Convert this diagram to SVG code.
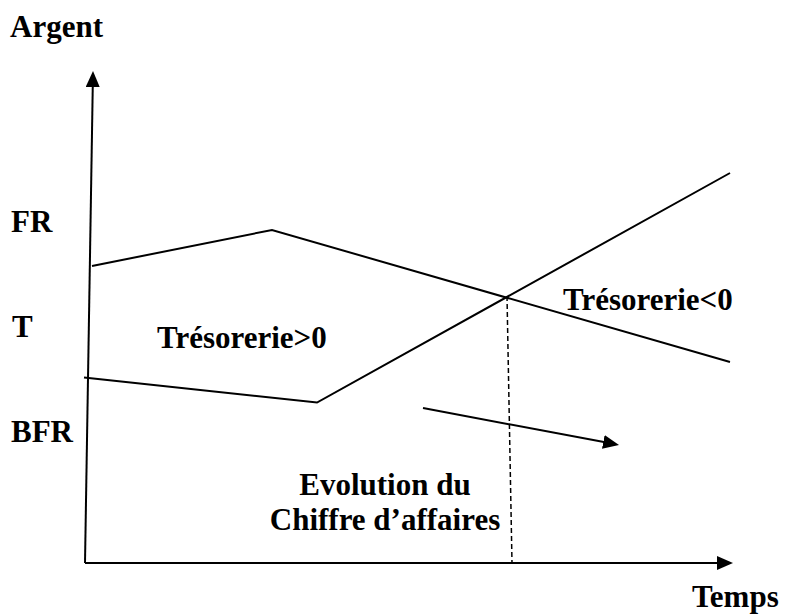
<svg xmlns="http://www.w3.org/2000/svg" width="785" height="614" viewBox="0 0 785 614">
<style>
.t{font-family:"Liberation Serif","Times New Roman",serif;font-weight:bold;font-size:31px;fill:#000}
.ln{fill:none;stroke:#000;stroke-width:2;stroke-linejoin:miter}
.dash{fill:none;stroke:#000;stroke-width:1.5;stroke-dasharray:5 3}
</style>
<defs>
<marker id="ah" viewBox="0 0 16 14" refX="6" refY="7" markerWidth="16" markerHeight="14" markerUnits="userSpaceOnUse" orient="auto">
<path d="M0,0 L16,7 L0,14 z" fill="#000"/>
</marker>
</defs>
<rect width="785" height="614" fill="#fff"/>
<g id="connectors">
<line id="axis-y" class="ln" x1="85" y1="563" x2="92.84" y2="81" marker-end="url(#ah)"/>
<line id="axis-x" class="ln" x1="85" y1="563" x2="723" y2="563" marker-end="url(#ah)"/>
<polyline id="fr-line" class="ln" points="92,266 272,230 730,362"/>
<polyline id="bfr-line" class="ln" points="84,377.5 317,402.5 730,173"/>
<line id="limit" class="dash" x1="507" y1="296" x2="512" y2="563"/>
<line id="trend" class="ln" x1="423" y1="408" x2="609.2" y2="443.1" marker-end="url(#ah)"/>
</g>
<g id="label-argent"><text class="t" x="10" y="37">Argent</text></g>
<g id="label-fr"><text class="t" x="11" y="232">FR</text></g>
<g id="label-t"><text class="t" x="12" y="337">T</text></g>
<g id="label-bfr"><text class="t" x="11" y="442">BFR</text></g>
<g id="label-tpos"><text class="t" x="157" y="348">Trésorerie&gt;0</text></g>
<g id="label-tneg"><text class="t" x="563" y="310">Trésorerie&lt;0</text></g>
<g id="label-ca"><text class="t" text-anchor="middle"><tspan x="385" y="495">Evolution du</tspan><tspan x="385" y="530">Chiffre d’affaires</tspan></text></g>
<g id="label-temps"><text class="t" x="692" y="607">Temps</text></g>
</svg>
